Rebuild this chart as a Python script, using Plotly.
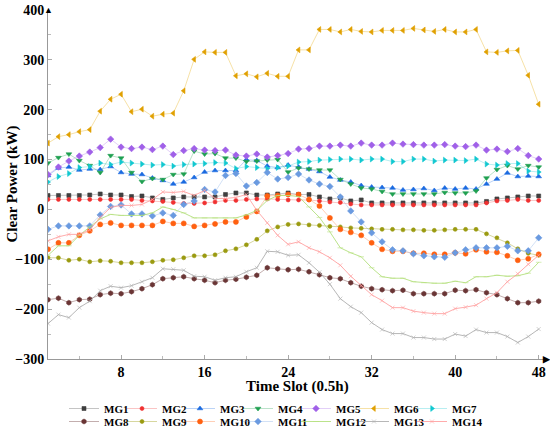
import plotly.graph_objects as go

slots = list(range(1, 49))

mg1 = [28,28,28,28,29,31,29,29,26,27,23,20,23,25,25,25,25,30,33,33,29,29,31,33,30,30,25,21,23,17,19,13,13,13,13,13,13,13,13,13,13,13,16,21,23,25,27,27]
mg2 = [20,20,20,20,20,20,20,20,20,18,17,16,14,12,12,13,15,18,18,20,21,21,20,19,19,19,17,15,14,11,9,9,9,9,9,9,9,9,9,9,9,9,13,17,18,20,18,18]
mg3 = [68,83,85,79,81,80,86,74,71,70,63,58,51,55,64,75,78,78,78,100,98,87,84,89,85,81,76,65,59,55,48,45,44,43,39,40,42,38,43,41,43,41,51,61,73,66,67,66]
mg4 = [93,104,111,98,88,74,108,103,74,56,62,60,70,71,117,111,112,103,103,96,97,99,100,75,83,81,79,79,60,51,43,41,36,31,31,31,31,31,34,33,33,37,63,80,88,81,88,85]
mg5 = [70,85,97,107,115,124,141,125,122,125,120,127,110,118,122,119,118,119,109,107,111,105,108,112,121,122,127,127,129,127,133,129,129,133,131,130,129,129,130,127,126,129,119,121,116,122,108,101]
mg6 = [133,146,150,156,160,197,221,231,196,201,187,191,193,238,301,316,315,315,268,272,266,273,267,267,320,320,361,361,356,361,357,356,359,359,359,363,360,357,361,356,356,361,316,315,318,319,269,211]
mg7 = [55,66,72,84,86,93,90,95,93,91,89,90,87,90,91,92,94,93,82,86,84,82,84,87,95,96,99,100,101,101,99,101,101,96,96,101,101,97,99,99,98,101,91,89,92,92,77,75]
mg8 = [-181,-178,-187,-181,-180,-171,-168,-169,-165,-159,-151,-139,-137,-135,-139,-142,-147,-142,-140,-136,-132,-117,-119,-121,-120,-125,-131,-137,-139,-147,-154,-159,-161,-163,-162,-169,-169,-169,-169,-162,-163,-161,-167,-171,-179,-187,-187,-184]
mg9 = [-97,-97,-102,-100,-105,-103,-104,-107,-107,-107,-105,-102,-101,-97,-93,-93,-91,-83,-79,-71,-60,-43,-35,-30,-29,-31,-32,-34,-35,-37,-38,-39,-40,-40,-41,-41,-42,-42,-41,-40,-40,-40,-49,-57,-67,-79,-88,-92]
mg10 = [-80,-67,-67,-52,-43,-30,-27,-32,-32,-32,-32,-24,-28,-28,-34,-32,-29,-25,-25,-15,-4,27,28,30,30,20,7,-17,-40,-46,-52,-67,-80,-84,-84,-88,-88,-90,-90,-87,-89,-81,-85,-86,-93,-102,-99,-90]
mg11 = [-40,-33,-33,-33,-33,-11,6,9,-9,-9,-13,-7,-12,10,17,40,35,68,72,47,54,74,61,64,71,59,51,46,25,-3,-25,-47,-65,-81,-83,-89,-93,-95,-96,-87,-81,-77,-77,-77,-74,-83,-83,-57]
mg12 = [-92,-73,-73,-52,-35,-19,-10,-12,-12,-12,-7,5,0,-7,-17,-17,-17,-17,-17,-11,-2,18,28,28,26,5,-16,-45,-77,-87,-95,-117,-135,-138,-138,-145,-147,-148,-148,-144,-147,-135,-135,-132,-134,-133,-128,-106]
mg13 = [-229,-211,-217,-197,-184,-163,-154,-157,-153,-145,-137,-119,-120,-122,-134,-135,-142,-137,-135,-125,-117,-84,-85,-92,-91,-107,-126,-150,-179,-195,-207,-227,-241,-249,-249,-257,-257,-260,-260,-250,-254,-241,-247,-247,-255,-267,-255,-240]
mg14 = [-63,-55,-50,-50,-41,-16,4,8,8,10,20,35,34,36,28,38,22,22,24,30,-2,-27,-52,-70,-65,-77,-85,-97,-112,-134,-153,-171,-183,-197,-197,-204,-207,-209,-209,-199,-196,-192,-179,-167,-145,-129,-110,-92]

names = ["MG1","MG2","MG3","MG4","MG5","MG6","MG7","MG8","MG9","MG10","MG11","MG12","MG13","MG14"]
series = [mg1,mg2,mg3,mg4,mg5,mg6,mg7,mg8,mg9,mg10,mg11,mg12,mg13,mg14]
marker_colors = ["#3f3f3f","#f03030","#1a6ae0","#1fa050","#a060e8","#e0a000","#10c8d0",
                 "#6a3535","#9a9a10","#ff6010","#6a9ae0","#b8e080","#b0b0b0","#ffa0a0"]
line_colors = ["rgba(60,60,60,0.3)","rgba(240,60,60,0.3)","rgba(30,110,225,0.3)","rgba(30,160,80,0.3)",
               "rgba(160,96,232,0.3)","rgba(230,170,0,0.35)","rgba(16,200,208,0.3)",
               "rgba(106,53,53,0.4)","rgba(154,154,16,0.4)","rgba(255,96,16,0.3)","rgba(106,154,224,0.3)",
               "rgba(170,220,110,0.8)","rgba(165,165,165,0.8)","rgba(255,150,150,0.8)"]
symbols = ["square","circle","triangle-up","triangle-down","diamond","triangle-left","triangle-right",
           "hexagon","circle","circle","diamond","line-ew","x-thin","x-thin"]
sizes = [4,4,5,5,5,5,5,5,4,5,5,4,4,4]

fig = go.Figure()
for i, (nm, ys, mc, lc, sym, sz) in enumerate(zip(names, series, marker_colors, line_colors, symbols, sizes)):
    fig.add_trace(go.Scatter(
        x=slots, y=ys, name=nm, mode="lines+markers",
        legend="legend" if i < 7 else "legend2",
        line=dict(color=lc, width=1),
        marker=dict(color=mc, symbol=sym, size=sz, line=dict(color=mc, width=0.6)),
    ))
# invisible spacer entries so the last legend labels are not clipped
for lg in ["legend", "legend2"]:
    fig.add_trace(go.Scatter(x=[None], y=[None], name=" ", mode="lines", legend=lg,
                             line=dict(color="rgba(0,0,0,0)"), hoverinfo="skip"))

serif = "Liberation Serif"
W, H = 550, 430
L, R, T, B = 48, 4, 10, 71
PW, PH = W - L - R, H - T - B
legfont = dict(family=serif, size=11, color="black", weight="bold")
fig.update_layout(
    width=W, height=H,
    margin=dict(l=L, r=R, t=T, b=B, autoexpand=False),
    paper_bgcolor="white", plot_bgcolor="white",
    font=dict(family=serif, size=13, color="black", weight="bold"),
    showlegend=True,
    legend=dict(orientation="h", xref="container", x=64 / W, xanchor="left",
                yref="container", y=(H - 394) / H, yanchor="top", bgcolor="rgba(0,0,0,0)",
                font=legfont, itemwidth=30, entrywidth=13, tracegroupgap=0),
    legend2=dict(orientation="h", xref="container", x=64 / W, xanchor="left",
                 yref="container", y=(H - 407) / H, yanchor="top", bgcolor="rgba(0,0,0,0)",
                 font=legfont, itemwidth=30, entrywidth=13, tracegroupgap=0),
    xaxis=dict(range=[1, 48.7], tickvals=[8,16,24,32,40,48], ticks="inside", ticklen=4,
               tickcolor="#aaaaaa", showline=True, linecolor="#999999", linewidth=1,
               showgrid=False, zeroline=False, ticklabeloverflow="allow", automargin=False,
               minor=dict(tickvals=[4,12,20,28,36,44], ticks="inside", ticklen=3, tickcolor="#bbbbbb"),
               tickfont=dict(family=serif, size=14, weight="bold")),
    yaxis=dict(range=[-300, 400], tickvals=[-300,-200,-100,0,100,200,300,400], ticks="inside", ticklen=4,
               tickcolor="#aaaaaa", showline=True, linecolor="#999999", linewidth=1,
               showgrid=False, zeroline=False, ticklabeloverflow="allow", automargin=False,
               minor=dict(tickvals=[-250,-150,-50,50,150,250,350], ticks="inside", ticklen=3, tickcolor="#bbbbbb"),
               tickfont=dict(family=serif, size=14, weight="bold")),
)
# axis titles
fig.add_annotation(xref="paper", yref="paper", x=0.5, y=-(386 - (T + PH)) / PH,
                   text="Time Slot (0.5h)", showarrow=False, xanchor="center", yanchor="middle",
                   font=dict(family=serif, size=15, color="black", weight="bold"))
fig.add_annotation(xref="paper", yref="paper", x=-(L - 12) / PW, y=0.5, textangle=-90,
                   text="Clear Power (kW)", showarrow=False, xanchor="center", yanchor="middle",
                   font=dict(family=serif, size=15, color="black", weight="bold"))
# axis arrows
fig.add_annotation(xref="paper", yref="paper", x=0, y=1.0, text="▲", showarrow=False,
                   font=dict(size=9, color="black"), xanchor="center", yanchor="middle")
fig.add_annotation(xref="paper", yref="paper", x=1.0, y=0, text="▶", showarrow=False,
                   font=dict(size=9, color="black"), xanchor="center", yanchor="middle")

fig.write_html("out.html", config={"displayModeBar": False},
               post_script="document.body.style.margin='0px';")
